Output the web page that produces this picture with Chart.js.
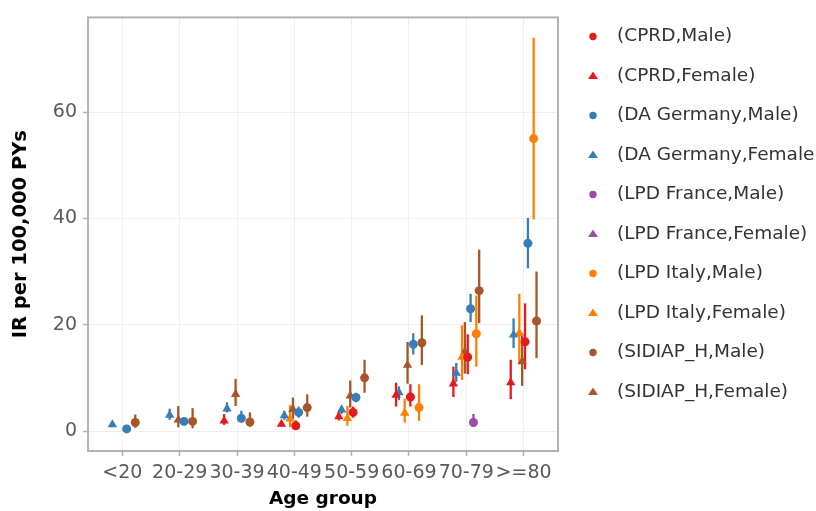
<!DOCTYPE html>
<html lang="en">
<head>
  <meta charset="UTF-8">
  <title>IR per 100,000 PYs by age group</title>
  <style>
    body, html { margin:0; padding:0; overflow:hidden; background:#fff; }
    canvas#chart { display:block; }
  </style>
</head>
<body>
  <canvas id="chart" width="816" height="511"></canvas>

  <script src="https://cdn.jsdelivr.net/npm/chart.js"></script>
  <script>
    const ageGroups = ['<20', '20-29', '30-39', '40-49', '50-59', '60-69', '70-79', '>=80'];
    const yTicks = [0, 20, 40, 60];

    // [IR, lower 95% CI, upper 95% CI] for each age group, null = no estimate
    const cprdMale      = [null, null, null, [1.0, 0.2, 2.0], [3.5, 2.5, 4.6], [6.4, 4.6, 8.8], [13.9, 10.7, 18.2], [16.8, 11.6, 24.0]];
    const cprdFemale    = [null, null, [1.9, 1.15, 3.2], [1.3, 0.9, 1.8], [2.7, 2.0, 3.5], [6.75, 4.6, 9.1], [8.9, 6.4, 12.1], [9.1, 6.0, 13.4]];
    const daMale        = [[0.4, 0.2, 0.6], [1.8, 1.3, 2.4], [2.4, 1.6, 3.8], [3.5, 2.5, 4.6], [6.3, 5.4, 7.2], [16.3, 14.4, 18.4], [23.0, 20.5, 25.8], [35.3, 30.6, 40.1]];
    const daFemale      = [[1.2, 0.9, 1.5], [3.0, 2.1, 4.2], [4.2, 3.5, 5.4], [2.9, 2.1, 3.8], [4.0, 3.2, 4.7], [7.25, 5.8, 8.4], [10.9, 9.25, 12.8], [18.1, 15.6, 21.2]];
    const lpdFrMale     = [null, null, null, null, null, null, [1.6, 0.8, 3.2], null];
    const lpdFrFemale   = [null, null, null, null, null, null, null, null];
    const lpdItMale     = [null, null, null, null, null, [4.4, 1.9, 8.8], [18.3, 12.1, 25.5], [55.0, 39.8, 74.0]];
    const lpdItFemale   = [null, null, null, [2.3, 0.7, 4.9], [2.4, 1.0, 4.7], [3.4, 1.6, 6.1], [13.9, 9.6, 19.9], [18.4, 12.5, 25.8]];
    const sidiapMale    = [[1.6, 0.6, 3.1], [1.8, 0.5, 4.3], [1.7, 0.8, 3.5], [4.4, 2.7, 6.9], [10.0, 7.2, 13.4], [16.6, 12.4, 21.75], [26.4, 20.3, 34.1], [20.7, 13.7, 30.0]];
    const sidiapFemale  = [null, [2.1, 0.7, 4.7], [6.9, 4.7, 9.8], [4.1, 2.3, 6.3], [6.6, 4.4, 9.5], [12.4, 8.9, 16.75], [14.9, 10.8, 20.5], [13.1, 8.5, 18.4]];

    const databases = ['CPRD', 'DA Germany', 'LPD France', 'LPD Italy', 'SIDIAP_H'];
    const dbColors = ['#E41A1C', '#377EB8', '#984EA3', '#FF7F00', '#A65628'];
    const seriesData = [
      [cprdMale, cprdFemale], [daMale, daFemale], [lpdFrMale, lpdFrFemale],
      [lpdItMale, lpdItFemale], [sidiapMale, sidiapFemale]
    ];

    // dodge: females first, then males, each ordered by database
    const dodgeWidth = 0.5, nGroups = 10;
    const FONT = 'DejaVu Sans';

    const datasets = [];
    databases.forEach((db, d) => {
      ['Male', 'Female'].forEach((sex, s) => {
        const slot = (sex === 'Female' ? 0 : 5) + d;
        const off = dodgeWidth * ((slot + 0.5) / nGroups - 0.5);
        const rows = seriesData[d][s];
        const pts = [];
        rows.forEach((r, k) => { if (r) pts.push({x: k + off, y: r[0], lo: r[1], hi: r[2]}); });
        datasets.push({
          label: '(' + db + ',' + sex + ')',
          data: pts,
          backgroundColor: dbColors[d],
          borderColor: dbColors[d],
          borderWidth: 0,
          pointStyle: sex === 'Male' ? 'circle' : 'triangle',
          pointRadius: sex === 'Male' ? 4.5 : 5.4,
          pointHoverRadius: sex === 'Male' ? 4.5 : 5.4
        });
      });
    });

    // vertical CI bars under the points
    const errorBars = {
      id: 'errorBars',
      beforeDatasetsDraw(chart) {
        const ctx = chart.ctx, y = chart.scales.y;
        ctx.save();
        ctx.lineWidth = 2.3;
        chart.data.datasets.forEach((ds, i) => {
          const meta = chart.getDatasetMeta(i);
          ctx.strokeStyle = ds.borderColor;
          ds.data.forEach((p, j) => {
            const el = meta.data[j];
            ctx.beginPath();
            ctx.moveTo(el.x, y.getPixelForValue(p.lo));
            ctx.lineTo(el.x, y.getPixelForValue(p.hi));
            ctx.stroke();
          });
        });
        ctx.restore();
      }
    };

    // panel border
    const frame = {
      id: 'frame',
      afterDatasetsDraw(chart) {
        const {ctx, chartArea: a} = chart;
        ctx.save();
        ctx.strokeStyle = '#b3b3b3';
        ctx.lineWidth = 2;
        ctx.strokeRect(a.left, a.top, a.right - a.left, a.bottom - a.top);
        ctx.restore();
      }
    };

    // legend on the right, one row per series
    const sideLegend = {
      id: 'sideLegend',
      afterDraw(chart) {
        const ctx = chart.ctx;
        const mx = chart.chartArea.right + 35, tx = chart.chartArea.right + 59;
        ctx.save();
        ctx.font = '18.5px "' + FONT + '"';
        ctx.textBaseline = 'middle';
        chart.data.datasets.forEach((ds, i) => {
          const cy = 36.5 + i * 39.5;
          ctx.fillStyle = ds.backgroundColor;
          ctx.beginPath();
          if (ds.pointStyle === 'circle') {
            ctx.arc(mx, cy, 3.7, 0, Math.PI * 2);
          } else {
            ctx.moveTo(mx, cy - 4.5);
            ctx.lineTo(mx + 5, cy + 3);
            ctx.lineTo(mx - 5, cy + 3);
            ctx.closePath();
          }
          ctx.fill();
          ctx.fillStyle = '#333';
          ctx.fillText(ds.label, tx, cy);
        });
        ctx.restore();
      }
    };

    new Chart(document.getElementById('chart'), {
      type: 'scatter',
      data: { datasets },
      plugins: [errorBars, frame, sideLegend],
      options: {
        responsive: false,
        animation: false,
        layout: { padding: { left: 0, top: 12, right: 258, bottom: 0 } },
        plugins: { legend: { display: false }, tooltip: { enabled: false } },
        scales: {
          x: {
            type: 'linear', min: -0.6, max: 7.6,
            afterBuildTicks: s => { s.ticks = ageGroups.map((_, k) => ({value: k})); },
            afterFit: s => { s.height = 60; },
            grid: { color: '#efefef', lineWidth: 1, tickColor: '#b3b3b3', tickLength: 5, tickWidth: 1.5 },
            border: { display: false },
            ticks: {
              autoSkip: false, maxRotation: 0, padding: 6,
              color: '#5a5a5a', font: { family: FONT, size: 19 },
              callback: v => ageGroups[v]
            },
            title: {
              display: true, text: 'Age group', color: '#000',
              font: { family: FONT, size: 18.5, weight: 'bold' },
              padding: { top: 0, bottom: 1 }
            }
          },
          y: {
            type: 'linear', min: -3.76, max: 77.8,
            afterBuildTicks: s => { s.ticks = yTicks.map(v => ({value: v})); },
            afterFit: s => { s.width = 88; },
            grid: { color: '#efefef', lineWidth: 1, tickColor: '#b3b3b3', tickLength: 5, tickWidth: 1.5 },
            border: { display: false },
            ticks: { padding: 6, color: '#5a5a5a', font: { family: FONT, size: 19 } },
            title: {
              display: true, text: 'IR per 100,000 PYs', color: '#000',
              font: { family: FONT, size: 19.5, weight: 'bold' },
              padding: { top: 9, bottom: 0 }
            }
          }
        }
      }
    });
  </script>
</body>
</html>
